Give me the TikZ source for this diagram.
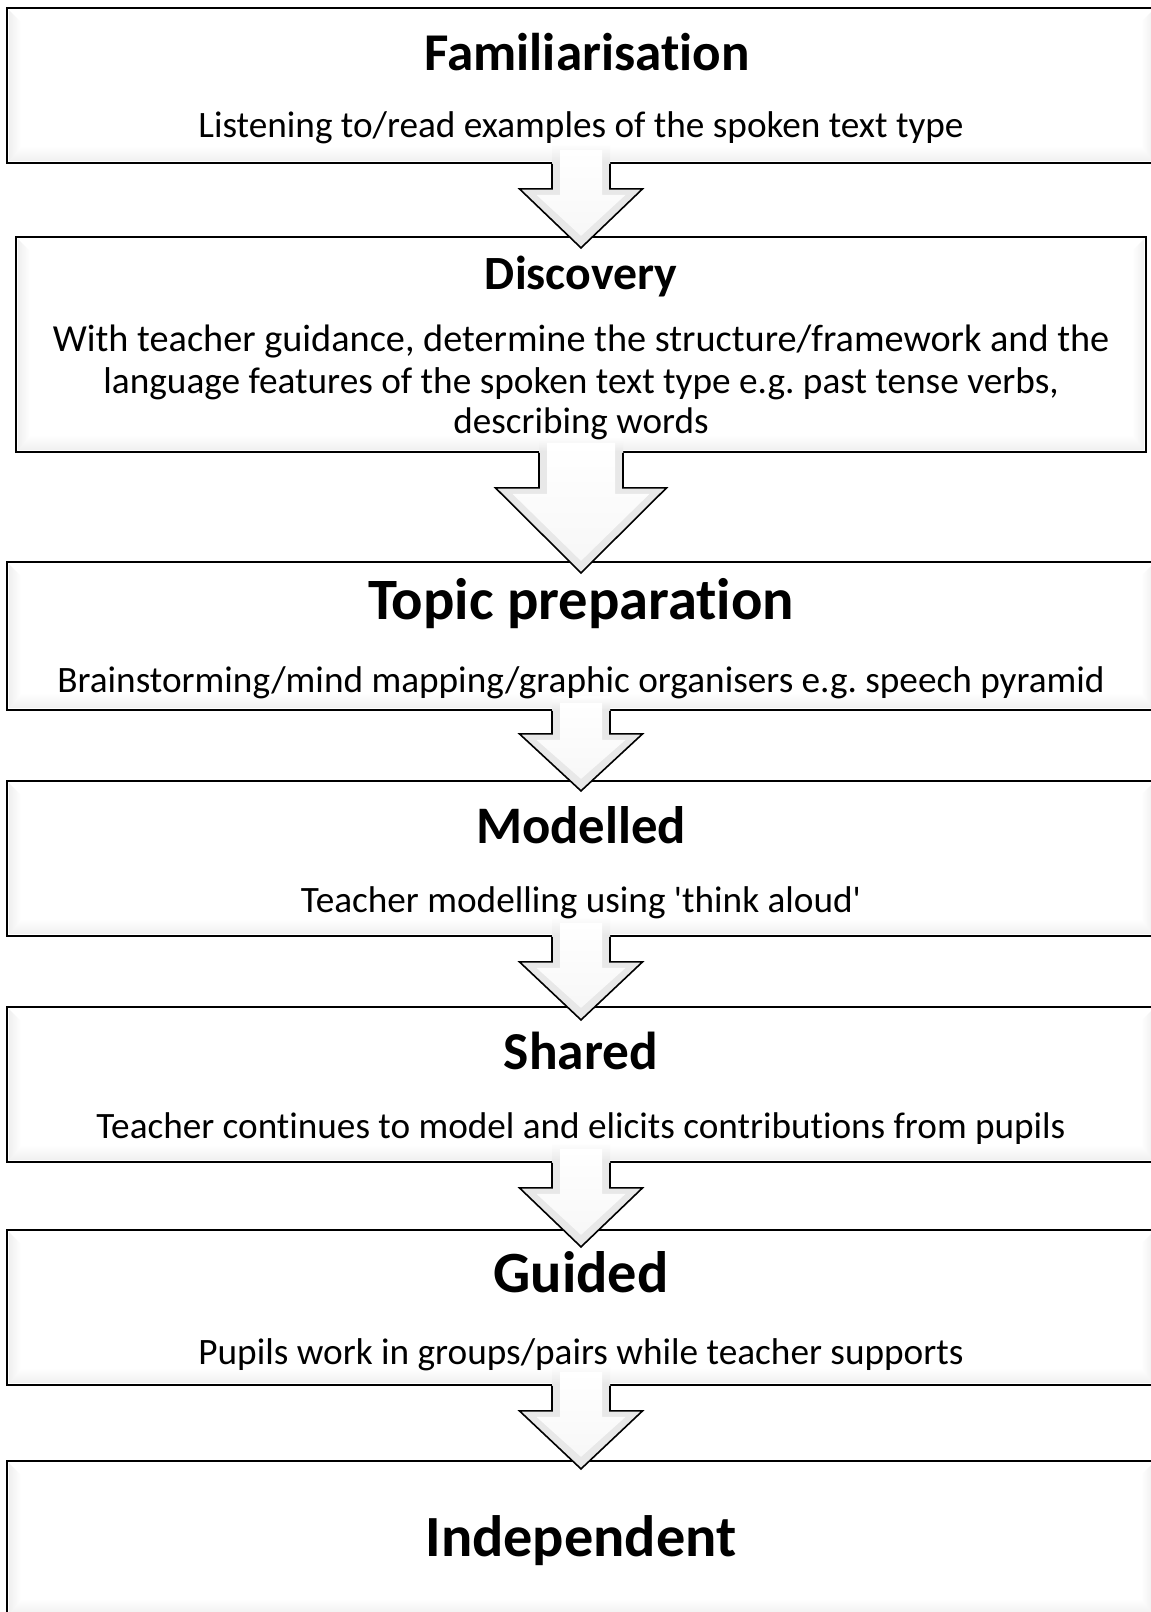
\documentclass[tikz,border=0pt]{standalone}
\usepackage{fontspec}
\setmainfont{Carlito}[Ligatures={TeXOff}, RawFeature={-liga;-calt;-dlig;-clig}]
\usepackage{graphicx}
\usetikzlibrary{calc}
\frenchspacing
\newcommand\tiNL{t\kern0pt i}
\tikzset{
  stage/.style={draw=black, line width=1.8pt, fill=white, rectangle, inner sep=0pt, minimum width=1148pt},
  headtext/.style={anchor=base, inner sep=0pt, font=\bfseries},
  bodytext/.style={anchor=base, inner sep=0pt},
}
\newcommand\bevelbox[1]{%
  \shade[left color=gray!12, right color=white] ($(#1.north west)+(3,3)$) -- ($(#1.south west)+(3,-3)$) -- ($(#1.south west)+(15,-15)$) -- ($(#1.north west)+(15,15)$) -- cycle;
  \shade[right color=gray!12, left color=white] ($(#1.north east)+(-3,3)$) -- ($(#1.south east)+(-3,-3)$) -- ($(#1.south east)+(-15,-15)$) -- ($(#1.north east)+(-15,15)$) -- cycle;
  \shade[bottom color=gray!12, top color=white] ($(#1.south west)+(3,-3)$) -- ($(#1.south east)+(-3,-3)$) -- ($(#1.south east)+(-15,-18)$) -- ($(#1.south west)+(15,-18)$) -- cycle;
}
% #1 source node, #2 shaft half width, #3 head half width, #4 head y, #5 tip y, #6 fade length
\newcommand\flowarrow[6]{%
  \begin{scope}[shift={(#1.south)}]
    \shade[top color=white, bottom color=gray!20] (-#2,-#6) rectangle (#2,0);
    \fill[gray!18] (-#2,-1.2) -- (-#2,#4) -- (-#3,#4) -- (0,#5) -- (#3,#4) -- (#2,#4) -- (#2,-1.2) -- cycle;
    \shade[top color=white, bottom color=gray!6] ($(-#2,-#6)+(8,6)$) -- ($(-#2,#4)+(8,6)$) -- ($(-#3,#4)+(17,6)$) -- ($(0,#5)+(0,-12)$) -- ($(#3,#4)+(-17,6)$) -- ($(#2,#4)+(-8,6)$) -- ($(#2,-#6)+(-8,6)$) -- cycle;
    \draw[black, line width=1.6pt, line join=miter] (-#2,0) -- (-#2,#4) -- (-#3,#4) -- (0,#5) -- (#3,#4) -- (#2,#4) -- (#2,0);
  \end{scope}
}
\begin{document}
\begin{tikzpicture}[x=1pt, y=-1pt]
\useasboundingbox (0,0) rectangle (1151,1612);
\clip (0,0) rectangle (1151,1612);
\fill[white] (0,0) rectangle (1151,1612);

\node[stage, minimum height=155pt] (b1) at (581,85.5) {};
\node[stage, minimum width=1130pt, minimum height=215pt] (b2) at (581,344.5) {};
\node[stage, minimum height=148pt] (b3) at (581,636) {};
\node[stage, minimum height=155pt] (b4) at (581,858.5) {};
\node[stage, minimum height=155pt] (b5) at (581,1084.5) {};
\node[stage, minimum height=155pt] (b6) at (581,1307.5) {};
\node[stage, minimum height=155pt] (b7) at (581,1538.5) {};
\foreach \b in {b1,b2,b3,b4,b5,b6,b7} {\bevelbox{\b}}

\flowarrow{b1}{29}{61.5}{25}{84}{20}
\flowarrow{b2}{42}{85.5}{35}{120}{16}
\flowarrow{b3}{29}{61.5}{23}{80}{14}
\flowarrow{b4}{29}{61.5}{25}{83}{20}
\flowarrow{b5}{29}{61.5}{25}{84}{20}
\flowarrow{b6}{29}{61.5}{25}{83}{20}

\node[headtext] (h1) at (587,70) {\resizebox{325pt}{!}{\bfseries Familiarisa\tiNL on}};
\node[bodytext] (t1) at (581,137) {\resizebox{765pt}{!}{Listening to/read examples of the spoken text type}};

\node[headtext] (h2) at (581,289) {\resizebox{192pt}{!}{\bfseries Discovery}};
\node[bodytext] (t2a) at (581,351) {\resizebox{1056pt}{!}{With teacher guidance, determine the structure/framework and the}};
\node[bodytext] (t2b) at (581,393) {\resizebox{955pt}{!}{language features of the spoken text type e.g. past tense verbs,}};
\node[bodytext] (t2c) at (581,433) {\resizebox{255pt}{!}{describing words}};

\node[headtext] (h3) at (581,619) {\resizebox{426pt}{!}{\bfseries Topic prepara\tiNL on}};
\node[bodytext] (t3) at (581,692) {\resizebox{1047pt}{!}{Brainstorming/mind mapping/graphic organisers e.g. speech pyramid}};

\node[headtext] (h4) at (581,843) {\resizebox{210pt}{!}{\bfseries Modelled}};
\node[bodytext] (t4) at (581,912) {\resizebox{560pt}{!}{Teacher modelling using 'think aloud'}};

\node[headtext] (h5) at (581,1069) {\resizebox{154pt}{!}{\bfseries Shared}};
\node[bodytext] (t5) at (581,1138) {\resizebox{969pt}{!}{Teacher con\tiNL nues to model and elicits contribu\tiNL ons from pupils}};

\node[headtext] (h6) at (581,1292) {\resizebox{175pt}{!}{\bfseries Guided}};
\node[bodytext] (t6) at (581,1364) {\resizebox{765pt}{!}{Pupils work in groups/pairs while teacher supports}};

\node[headtext] (h7) at (581,1556) {\resizebox{311pt}{!}{\bfseries Independent}};
\end{tikzpicture}
\end{document}
